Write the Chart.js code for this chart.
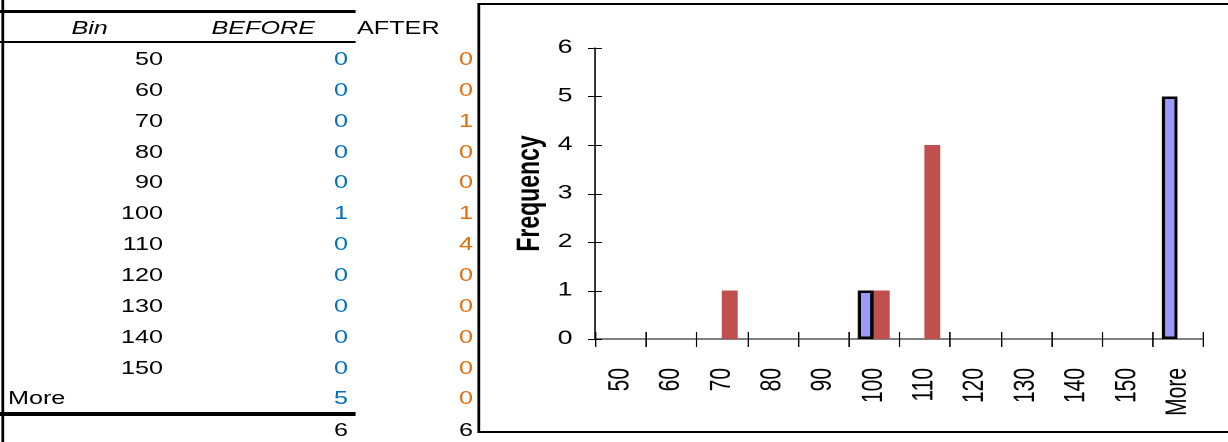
<!DOCTYPE html>
<html>
<head>
<meta charset="utf-8">
<script src="https://cdn.jsdelivr.net/npm/chart.js@4.4.1/dist/chart.umd.min.js"></script>
<style>
  html, body { margin: 0; padding: 0; background: #fff; overflow: hidden; }
  body { width: 1228px; height: 442px; }
  /* the source screenshot is stretched sideways, so the whole sheet is laid out narrow and scaled */
  #stage { position: absolute; left: 0; top: 0; width: 877px; height: 442px;
           transform: scaleX(1.4); transform-origin: 0 0;
           font-family: "Liberation Sans", Arial, sans-serif; font-size: 18px; color: #000; }
  .line { position: absolute; background: #000; }
  .cell { position: absolute; height: 30px; line-height: 30px; white-space: nowrap; }
  .r { text-align: right; }
  .before { color: #0070C0; }
  .after { color: #E46C0A; }
  #box { position: absolute; left: 340.7px; top: 3px; width: 600px; height: 426px; border: 2px solid #000; }
  #histChart { position: absolute; left: 342.5px; top: 5px; }
</style>
</head>
<body>
<div id="stage">
  <div class="line" style="left:0.7px;top:0;width:2.4px;height:442px"></div>
  <div class="line" style="left:0;top:10px;width:253.6px;height:3px"></div>
  <div class="line" style="left:0;top:41px;width:253.6px;height:2px"></div>
  <div class="line" style="left:0;top:412px;width:253.6px;height:4px"></div>
  <div id="table"></div>
  <div id="box"></div>
  <canvas id="histChart" width="553" height="425"></canvas>
</div>
<script>
// histogram bins and counts
const bins = ['50', '60', '70', '80', '90', '100', '110', '120', '130', '140', '150', 'More'];
const beforeCounts = [0, 0, 0, 0, 0, 1, 0, 0, 0, 0, 0, 5];
const afterCounts = [0, 0, 1, 0, 0, 1, 4, 0, 0, 0, 0, 0];
const yTicks = [0, 1, 2, 3, 4, 5, 6];

// spreadsheet table on the left
const table = document.getElementById('table');
function addCell(text, cls, style) {
  const d = document.createElement('div');
  d.className = 'cell ' + cls;
  d.textContent = text;
  d.setAttribute('style', style);
  table.appendChild(d);
}
addCell('Bin', '', 'left:44px;width:40px;top:13px;text-align:center;font-style:italic');
addCell('BEFORE', 'r', 'left:125px;width:100px;top:13px;font-style:italic');
addCell('AFTER', '', 'left:255px;top:13px');

bins.forEach((b, i) => {
  const top = 44 + i * 30.85;
  if (b === 'More') {
    addCell(b, '', 'left:5.7px;top:' + top + 'px');
  } else {
    addCell(b, 'r', 'left:36px;width:80.4px;top:' + top + 'px');
  }
  addCell(beforeCounts[i], 'r before', 'left:200px;width:48.6px;top:' + top + 'px');
  addCell(afterCounts[i], 'r after', 'left:290px;width:47.9px;top:' + top + 'px');
});
const totalTop = 415;
addCell(beforeCounts.reduce((a, b) => a + b, 0), 'r', 'left:200px;width:48.6px;top:' + totalTop + 'px');
addCell(afterCounts.reduce((a, b) => a + b, 0), 'r', 'left:290px;width:47.9px;top:' + totalTop + 'px');

// excel style tick marks crossing the axes
const crossTicks = {
  id: 'crossTicks',
  afterDraw(chart) {
    const { ctx, scales: { x, y } } = chart;
    ctx.save();
    ctx.strokeStyle = '#000';
    ctx.lineWidth = 1;
    ctx.beginPath();
    y.ticks.forEach((t, i) => {
      const py = Math.round(y.getPixelForTick(i)) + 0.5;
      ctx.moveTo(x.left - 5, py);
      ctx.lineTo(x.left + 5, py);
    });
    const step = x.width / bins.length;
    for (let i = 0; i <= bins.length; i++) {
      const px = Math.round(x.left + i * step) + 0.5;
      ctx.moveTo(px, y.bottom - 7);
      ctx.lineTo(px, y.bottom + 8);
    }
    ctx.stroke();
    ctx.restore();
  }
};

new Chart(document.getElementById('histChart'), {
  type: 'bar',
  data: {
    labels: bins,
    datasets: [
      {
        label: 'BEFORE',
        data: beforeCounts,
        backgroundColor: '#9999FF',
        borderColor: '#000000',
        borderWidth: 2.5,
        borderSkipped: false
      },
      {
        label: 'AFTER',
        data: afterCounts,
        backgroundColor: '#C0504D',
        borderWidth: 0
      }
    ]
  },
  options: {
    responsive: false,
    animation: false,
    devicePixelRatio: 2,
    layout: { padding: { left: 0, top: 43, right: 15, bottom: 0 } },
    datasets: { bar: { categoryPercentage: 0.63, barPercentage: 1.0 } },
    plugins: { legend: { display: false }, tooltip: { enabled: false } },
    scales: {
      x: {
        grid: { display: false, drawTicks: false },
        border: { display: true, color: '#000', width: 1 },
        ticks: {
          color: '#000',
          font: { family: 'Liberation Sans', size: 21 },
          minRotation: 90,
          maxRotation: 90,
          padding: 29,
          autoSkip: false
        },
        afterFit(scale) { scale.height = 91; }
      },
      y: {
        min: 0,
        max: 6,
        grid: { display: false, drawTicks: false },
        border: { display: true, color: '#000', width: 1 },
        afterBuildTicks(scale) { scale.ticks = yTicks.map(v => ({ value: v })); },
        ticks: {
          color: '#000',
          font: { family: 'Liberation Sans', size: 19 },
          padding: 16
        },
        title: {
          display: true,
          text: 'Frequency',
          color: '#000',
          font: { family: 'Liberation Sans', size: 23, weight: 'bold' },
          padding: { top: 22, bottom: 0 }
        },
        afterFit(scale) { scale.width = 82; }
      }
    }
  },
  plugins: [crossTicks]
});
</script>
</body>
</html>
